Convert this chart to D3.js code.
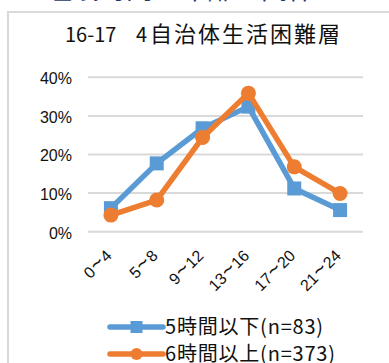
<!DOCTYPE html>
<html>
<head>
<meta charset="utf-8">
<script src="https://cdn.jsdelivr.net/npm/d3@7"></script>
<style>
  html, body { margin: 0; padding: 0; background: #fff; }
  svg { display: block; }
</style>
</head>
<body>
<svg id="chart" width="389" height="363"></svg>
<script>
// Age-band categories (hours) and share per band for each group
const categories = ["0～4", "5～8", "9～12", "13～16", "17～20", "21～24"];
const seriesNames = ["5時間以下(n=83)", "6時間以上(n=373)"];
const shortSleep = [0.061, 0.177, 0.268, 0.324, 0.112, 0.056];
const longSleep  = [0.043, 0.082, 0.244, 0.359, 0.168, 0.099];
const yTicks = [0, 0.1, 0.2, 0.3, 0.4];
const titleLead = "16-17";
const titleNum = "4";
const titleMain = "自治体生活困難層";
const pageHeading = "睡眠時間と年齢の関係";

const colors = ["#5B9BD5", "#ED7D31"];
const svg = d3.select("#chart");
const cjk = "'Noto Sans CJK JP', 'Noto Sans', sans-serif";
const latin = "'Liberation Sans', Arial, 'Noto Sans CJK JP', sans-serif";

// page heading, mostly above the visible area
svg.append("text")
  .attr("x", 45).attr("y", -1)
  .attr("fill", "#1F3A6B")
  .attr("font-family", cjk)
  .attr("font-size", 27)
  .text(pageHeading);

// chart frame
svg.append("rect")
  .attr("x", 8).attr("y", 12)
  .attr("width", 420).attr("height", 420)
  .attr("fill", "#fff")
  .attr("stroke", "#d9d9d9")
  .attr("stroke-width", 2);

// title
const title = svg.append("text")
  .attr("y", 42)
  .attr("fill", "#111")
  .attr("font-family", cjk);
title.append("tspan").attr("x", 65).attr("font-size", 20).text(titleLead);
title.append("tspan").attr("x", 136).attr("font-size", 20).text(titleNum);
title.append("tspan").attr("x", 150).attr("font-size", 22).attr("letter-spacing", 2).text(titleMain);

const x = d3.scaleBand().domain(categories).range([88, 363]);
const y = d3.scaleLinear().domain([0, 0.4]).range([231.7, 77.3]);

// gridlines
svg.append("g").selectAll("line").data(yTicks).join("line")
  .attr("x1", 88).attr("x2", 363)
  .attr("y1", d => y(d)).attr("y2", d => y(d))
  .attr("stroke", "#d9d9d9").attr("stroke-width", 2);

// y axis labels
const yAxis = d3.axisLeft(y).tickValues(yTicks).tickFormat(d3.format(".0%")).tickSize(0).tickPadding(16);
const gy = svg.append("g").attr("transform", "translate(88,0)").call(yAxis);
gy.select(".domain").remove();
gy.selectAll("text")
  .attr("font-family", latin).attr("font-size", 16).attr("fill", "#111")
  .attr("dy", "0.4em");

// x axis labels, rotated; the wave dash is set larger with some room on both sides
const xAxis = d3.axisBottom(x).tickSize(0).tickPadding(0);
const gx = svg.append("g").attr("transform", "translate(0,231.7)").call(xAxis);
gx.select(".domain").remove();
gx.selectAll("text")
  .attr("font-family", latin).attr("font-size", 16).attr("fill", "#111")
  .attr("text-anchor", "end")
  .attr("dy", null).attr("y", null)
  .attr("transform", "translate(2,25) rotate(-45)")
  .each(function(d) {
    const t = d3.select(this).text("");
    const parts = d.split("～");
    t.append("tspan").text(parts[0]);
    t.append("tspan").attr("font-size", 21).attr("dx", 1).text("~");
    t.append("tspan").attr("dx", 1).text(parts[1]);
  });

const cx = d => x(d) + x.bandwidth() / 2;
const line = d3.line().x((d, i) => cx(categories[i])).y(d => y(d));

const series = [shortSleep, longSleep];
series.forEach((vals, si) => {
  svg.append("path")
    .datum(vals)
    .attr("fill", "none")
    .attr("stroke", colors[si])
    .attr("stroke-width", 5.5)
    .attr("stroke-linejoin", "round")
    .attr("d", line);
  if (si === 0) {
    svg.append("g").selectAll("rect").data(vals).join("rect")
      .attr("x", (d, i) => cx(categories[i]) - 7)
      .attr("y", d => y(d) - 7)
      .attr("width", 14).attr("height", 14)
      .attr("fill", colors[si]);
  } else {
    svg.append("g").selectAll("circle").data(vals).join("circle")
      .attr("cx", (d, i) => cx(categories[i]))
      .attr("cy", d => y(d))
      .attr("r", 7.5)
      .attr("fill", colors[si]);
  }
});

// legend
const legend = svg.append("g");
seriesNames.forEach((name, i) => {
  const ly = 327 + i * 27;
  const g = legend.append("g");
  g.append("line")
    .attr("x1", 110).attr("x2", 163).attr("y1", ly).attr("y2", ly)
    .attr("stroke", colors[i]).attr("stroke-width", 5.5).attr("stroke-linecap", "round");
  if (i === 0) {
    g.append("rect").attr("x", 130.5).attr("y", ly - 6).attr("width", 12).attr("height", 12).attr("fill", colors[i]);
  } else {
    g.append("circle").attr("cx", 136.5).attr("cy", ly).attr("r", 6).attr("fill", colors[i]);
  }
  g.append("text")
    .attr("x", 165).attr("y", ly).attr("dy", "0.36em")
    .attr("font-family", cjk).attr("font-size", 20).attr("letter-spacing", 0.8).attr("fill", "#111")
    .text(name);
});
</script>
</body>
</html>
